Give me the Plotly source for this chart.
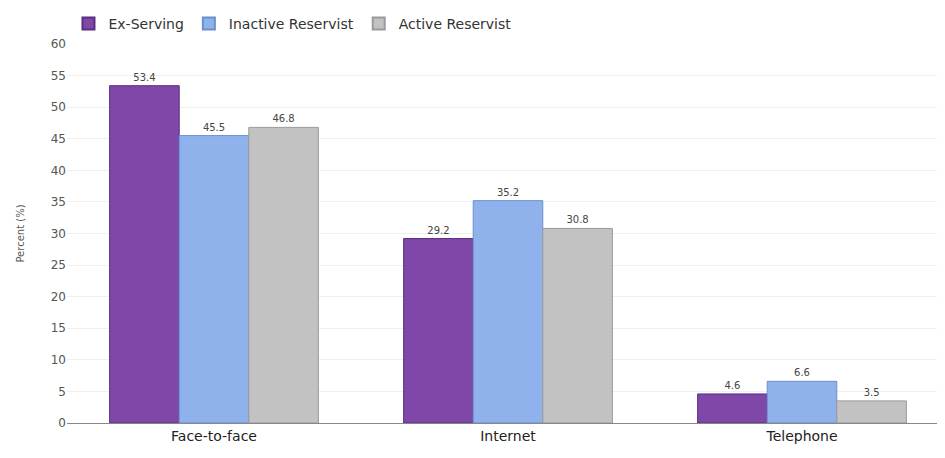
import plotly.graph_objects as go

categories = ["Face-to-face", "Internet", "Telephone"]
ex_serving = [53.4, 29.2, 4.6]
inactive_reservist = [45.5, 35.2, 6.6]
active_reservist = [46.8, 30.8, 3.5]
series_names = ["Ex-Serving", "Inactive Reservist", "Active Reservist"]
colors = ["#7e47a8", "#90b2ec", "#c2c2c2"]
line_colors = ["#5b2f80", "#6a8fcf", "#9a9a9a"]

FONT = "DejaVu Sans, Arial, sans-serif"

fig = go.Figure()
for name, vals, c, lc in zip(series_names, [ex_serving, inactive_reservist, active_reservist], colors, line_colors):
    fig.add_trace(go.Bar(
        x=categories, y=vals, name=name,
        marker=dict(color=c, line=dict(color=lc, width=1)),
        text=[f"{v:.1f}" for v in vals], textposition="outside",
        textfont=dict(size=10, color="#444444", family=FONT),
        cliponaxis=False,
    ))

fig.update_layout(
    width=945, height=458,
    margin=dict(l=59, r=4, t=36, b=43, autoexpand=False),
    barmode="group", bargap=0.29, bargroupgap=0,
    plot_bgcolor="white", paper_bgcolor="white",
    font=dict(family=FONT, color="#444444"),
    legend=dict(orientation="h", x=0.064, y=1.0, xref="container", yref="container",
                xanchor="left", yanchor="top",
                font=dict(size=14, color="#333333", family=FONT), traceorder="normal",
                itemsizing="constant", itemwidth=30),
    yaxis=dict(range=[0, 60], dtick=5, showgrid=True, gridcolor="#efefef",
               tickfont=dict(size=12, color="#555555", family=FONT), ticks="",
               title=dict(text="Percent (%)", font=dict(size=10, color="#555555", family=FONT), standoff=24),
               zeroline=True, zerolinecolor="#888888", zerolinewidth=1),
    xaxis=dict(tickfont=dict(size=14, color="#222222", family=FONT), showline=True, linecolor="#888888",
               ticks=""),
)

fig.write_html("out.html")
